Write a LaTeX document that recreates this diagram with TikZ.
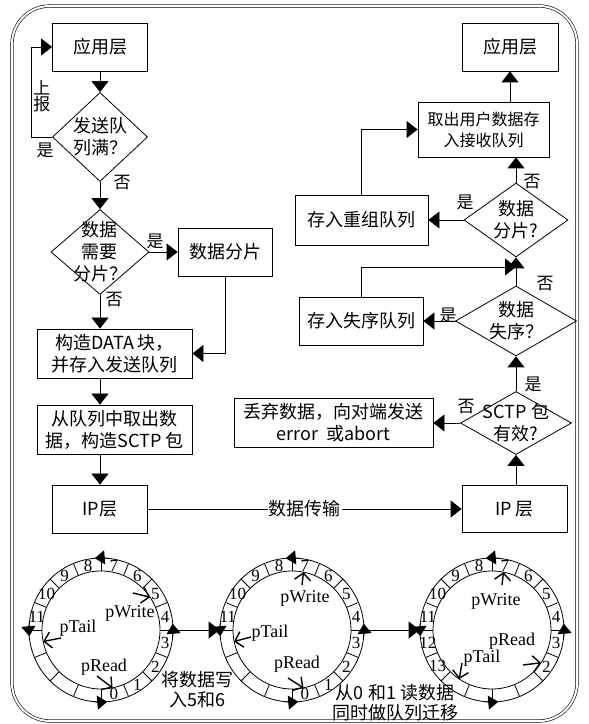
\documentclass[tikz,border=0pt]{standalone}
\usepackage{fontspec}
\setmainfont{Noto Sans CJK SC}
\newfontfamily\ringfont{Liberation Serif}
\usetikzlibrary{shapes.geometric,arrows.meta,calc}

\begin{document}
\begin{tikzpicture}[x=1pt, y=1pt,
  box/.style={draw, line width=0.8pt, inner sep=0pt, align=center, font=\fontsize{18}{22}\selectfont},
  dia/.style={draw, diamond, line width=0.8pt, inner sep=0pt},
  dtext/.style={align=center, inner sep=0pt, font=\fontsize{18}{22}\selectfont},
  yn/.style={inner sep=0pt, align=center, font=\fontsize{17}{16}\selectfont},
  flow/.style={line width=0.8pt, -{Triangle[length=11pt,width=17pt]}},
  ring/.style={draw, circle, line width=0.8pt, minimum size=144pt, inner sep=0pt},
  turn/.style={line width=0.8pt, -{Triangle[length=10pt,width=14pt]}},
  ptr/.style={line width=1.4pt, -{Straight Barb[length=7pt,width=16pt]}},
  num/.style={inner sep=0pt, font=\ringfont\fontsize{17}{17}\selectfont},
  pname/.style={inner sep=0pt, font=\ringfont\fontsize{18}{18}\selectfont}]

\useasboundingbox (0,0) rectangle (589,724);
\draw[double, double distance=2pt, line width=0.6pt, rounded corners=38pt] (12,3) rectangle (577,718);

% send side
\node (app1) at (100,677) [box, minimum width=95pt, minimum height=48pt] {应用层};
\node (full) at (100,587) [dia, minimum width=95pt, minimum height=89pt] {};
\node (fullt) at (full) [dtext] {发送队\\列满？};
\node (split) at (100,472) [dia, minimum width=98pt, minimum height=85pt] {};
\node (splitt) at (split) [dtext] {数据\\需要\\分片？};
\node (frag) at (225,472) [box, minimum width=94pt, minimum height=48pt] {数据分片};
\node (data) at (114.5,370.5) [box, minimum width=155pt, minimum height=49pt] {构造DATA 块，\\并存入发送队列};
\node (take) at (114.5,294.5) [box, minimum width=155pt, minimum height=49pt] {从队列中取出数\\据，构造SCTP 包};
\node (ip1) at (100,215) [box, minimum width=95pt, minimum height=48pt] {IP层};

\draw[flow] (app1) -- (full);
\draw[flow] (full.west) -- ++(-20.5,0) |- (app1.west);
\draw[flow] (full) -- (split);
\draw[flow] (split) -- (frag);
\draw[flow] (frag.south) |- (data.east);
\draw[flow] (split.south) -- (split.south |- data.north);
\draw[flow] (ip1.north |- data.south) -- (ip1.north |- take.north);
\draw[flow] (ip1.north |- take.south) -- (ip1.north);

\node (up) at (42,628) [yn] {上\\报};
\node (yes1) at (45,574) [yn] {是};
\node (no1) at (122,541) [yn] {否};
\node (yes2) at (155,483) [yn] {是};
\node (no2) at (114,424) [yn] {否};

% receive side
\node (app2) at (510,677) [box, minimum width=96pt, minimum height=48pt] {应用层};
\node (recv) at (483.5,594.5) [box, minimum width=131pt, minimum height=55pt, font=\fontsize{16}{21}\selectfont] {取出用户数据存\\入接收队列};
\node (reasm) at (516,504) [dia, minimum width=104pt, minimum height=74pt] {};
\node (reasmt) at (reasm) [dtext] {数据\\分片?};
\node (reorder) at (361.5,504) [box, minimum width=133pt, minimum height=50pt] {存入重组队列};
\node (order) at (516,403) [dia, minimum width=121pt, minimum height=70pt] {};
\node (ordert) at (order) [dtext] {数据\\失序？};
\node (ooo) at (361,403) [box, minimum width=124pt, minimum height=48pt] {存入失序队列};
\node (sctp) at (516,301) [dia, minimum width=111pt, minimum height=63pt] {};
\node (sctpt) at (sctp) [dtext] {SCTP 包\\有效?};
\node (drop) at (333.5,301) [box, minimum width=199pt, minimum height=49pt] {丢弃数据，向对端发送\\error\ \ 或abort};
\node (ip2) at (514.5,215) [box, minimum width=105pt, minimum height=47pt] {IP 层};
\coordinate (join) at (516,457);

\draw[flow] (ip1) -- node (trans) [fill=white, inner sep=1pt, font=\fontsize{18}{18}\selectfont] {数据传输} (ip2);
\draw[flow] (sctp.south |- ip2.north) -- (sctp.south);
\draw[flow] (sctp.west) -- (drop.east);
\draw[flow] (sctp) -- (order);
\draw[flow] (order.west) -- (ooo.east);
\draw[flow] (order) -- (reasm);
\draw[flow] (ooo.north) |- (join);
\draw[flow] (reasm.west) -- (reorder.east);
\draw[flow] (reasm) -- (reasm.north |- recv.south);
\draw[flow] (reorder.north) |- (recv.west);
\draw[flow] (app2.south |- recv.north) -- (app2.south);

\node (no3) at (532,542) [yn] {否};
\node (yes3) at (465,522) [yn] {是};
\node (no4) at (545,440) [yn] {否};
\node (yes4) at (448,409) [yn] {是};
\node (yes5) at (533,340) [yn] {是};
\node (no5) at (466,317) [yn] {否};

% queues
\foreach \n/\cx in {q1/101, q2/292, q3/492} {
  \node (\n) at (\cx,94) [ring] {};
  \draw[line width=0.8pt] (\n.center) circle[radius=59];
  \foreach \k in {0,...,15}
    \draw[line width=0.8pt] ($(\n.center)+(\k*22.5:59)$) -- ($(\n.center)+(\k*22.5:72)$);
  \foreach \a in {0,90,180,270}
    \draw[turn] ($(\n.center)+(\a-7:72)$) arc[start angle=\a-7, end angle=\a+5, radius=72];
}
\foreach \k in {0,...,11} {
  \node (q1n\k) at ($(q1.center)+(-78.75+\k*22.5:65.5)$) [num] {\k};
  \node (q2n\k) at ($(q2.center)+(-78.75+\k*22.5:65.5)$) [num] {\k};
}
\foreach \k in {2,...,13}
  \node (q3n\k) at ($(q3.center)+(-78.75+\k*22.5:65.5)$) [num] {\k};

\draw[flow] (q1.east) -- (q2.west);
\draw[flow] (q2.east) -- (q3.west);

\node (w1) at (130,111) [pname] {pWrite};
\node (t1) at (78,96) [pname] {pTail};
\node (r1) at (104,57) [pname] {pRead};
\coordinate (w1s) at (133,131);
\coordinate (t1s) at (61,86);
\coordinate (r1s) at (97,48);
\draw[ptr] (w1s) -- ($(q1.center)+(33.75:59)$);
\draw[ptr] (t1s) -- ($(q1.center)+(191.25:59)$);
\draw[ptr] (r1s) -- ($(q1.center)+(-78.75:59)$);

\node (w2) at (305,126) [pname] {pWrite};
\node (t2) at (270,91) [pname] {pTail};
\node (r2) at (297,60) [pname] {pRead};
\coordinate (w2s) at (302,139);
\coordinate (t2s) at (251,87);
\coordinate (r2s) at (288,46);
\draw[ptr] (w2s) -- ($(q2.center)+(78.75:59)$);
\draw[ptr] (t2s) -- ($(q2.center)+(191.25:59)$);
\draw[ptr] (r2s) -- ($(q2.center)+(-78.75:59)$);

\node (w3) at (496,123) [pname] {pWrite};
\node (r3) at (512,83) [pname] {pRead};
\node (t3) at (482,66) [pname] {pTail};
\coordinate (w3s) at (502,139);
\coordinate (r3s) at (523,59);
\coordinate (t3s) at (462,61);
\draw[ptr] (w3s) -- ($(q3.center)+(78.75:59)$);
\draw[ptr] (r3s) -- ($(q3.center)+(-33.75:59)$);
\draw[ptr] (t3s) -- ($(q3.center)+(236.25:59)$);

\node (step1) at (197,34) [align=center, inner sep=0pt, font=\fontsize{18}{20}\selectfont] {将数据写\\入5和6};
\node (step2) at (395,21.5) [align=center, inner sep=0pt, font=\fontsize{18}{19.5}\selectfont] {从0 和1 读数据\\同时做队列迁移};

\end{tikzpicture}
\end{document}
